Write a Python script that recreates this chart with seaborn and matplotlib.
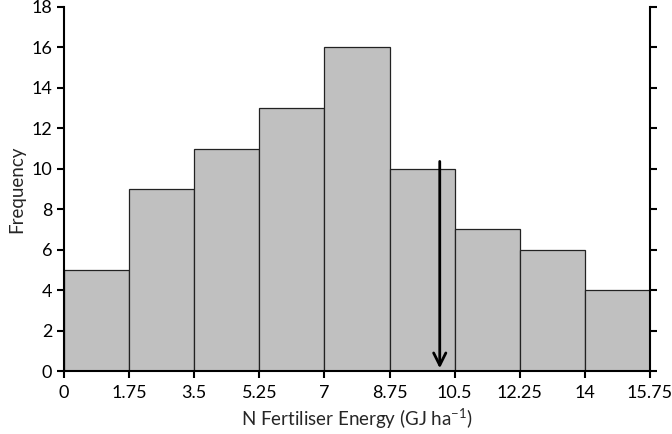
import numpy as np
import pandas as pd
import seaborn as sns
import matplotlib.pyplot as plt

# data
bin_edges = [0, 1.75, 3.5, 5.25, 7, 8.75, 10.5, 12.25, 14, 15.75]
frequencies = [5, 9, 11, 13, 16, 10, 7, 6, 4]
tick_labels = ['0', '1.75', '3.5', '5.25', '7', '8.75', '10.5', '12.25', '14', '15.75']
arrow_x = 10.1
arrow_top = 10.5

sns.set_style('white')
plt.rcParams['font.family'] = ['Lato', 'DejaVu Sans']
plt.rcParams['mathtext.default'] = 'regular'
plt.rcParams['font.size'] = 13

centers = [(a + b) / 2 for a, b in zip(bin_edges[:-1], bin_edges[1:])]
df = pd.DataFrame({'energy': centers, 'count': frequencies})

fig = plt.figure(figsize=(6.72, 4.34), dpi=100)
ax = fig.add_axes([0.0952, 0.145, 0.872, 0.839])

sns.histplot(data=df, x='energy', weights='count', bins=bin_edges, color='#c0c0c0',
             edgecolor='#222222', linewidth=0.9, alpha=1, ax=ax)

ax.annotate('', xy=(arrow_x, 0), xytext=(arrow_x, arrow_top),
            arrowprops=dict(arrowstyle='->', color='black', lw=2, mutation_scale=22))

ax.set_xlim(0, 15.75)
ax.set_ylim(0, 18)
ax.set_xticks(bin_edges)
ax.set_xticklabels(tick_labels)
ax.set_yticks(range(0, 19, 2))
ax.set_xlabel('N Fertiliser Energy (GJ ha$^{-1}$)', fontsize=13.5)
ax.set_ylabel('Frequency', fontsize=13.5)

for side in ['left', 'bottom', 'right']:
    ax.spines[side].set_color('black')
    ax.spines[side].set_linewidth(1.5)
ax.spines['top'].set_visible(False)
ax.tick_params(axis='both', direction='out', length=5, width=1.5, colors='black',
               labelsize=13, bottom=True, left=True)
ax.tick_params(axis='x', pad=5)
ax.tick_params(axis='y', right=True, labelright=False)

fig.savefig('out.png', dpi=100)
